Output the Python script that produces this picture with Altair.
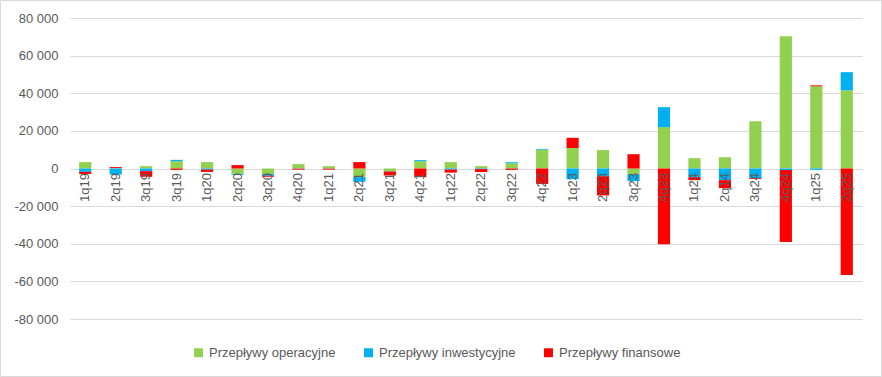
import altair as alt
import pandas as pd

labels = ["1q19","2q19","3q19","3q19","1q20","2q20","3q20","4q20","1q21","2q21","3q21","4q21",
          "1q22","2q22","3q22","4q22","1q23","2q23","3q23","4q23","1q24","2q14","3q24","4q24","1q25","2q25"]

series_names = ["Przepływy operacyjne", "Przepływy inwestycyjne", "Przepływy finansowe"]
series_colors = ["#92D050", "#00B0F0", "#FF0000"]

oper = [3400, 300, 1250, 3900, 3400, -2800, -3000, 2300, 1250, -4600, -1400, 3900,
        3400, 1250, 2800, 10000, 10900, 9800, -3000, 22000, 5500, 6000, 25100, 70300, 43700, 41600]
inw = [-1800, -3200, -1400, 700, -600, -500, -900, -100, -100, -2500, -200, 550,
       -600, -300, 550, 400, -5700, -4100, -3700, 10600, -4600, -6200, -5100, -800, -700, 9600]
fin = [-1100, 500, -3000, -700, -1200, 1800, -500, -500, -500, 3400, -2100, -4600,
       -1600, -1600, -700, -8200, 5400, -10200, 7600, -40200, -1600, -4200, -500, -38300, 500, -56600]

rows = []
for i, lab in enumerate(labels):
    key = f"{i:02d}_{lab}"
    for s, (name, vals) in enumerate(zip(series_names, [oper, inw, fin])):
        rows.append({"key": key, "series": name, "ord": s, "value": vals[i]})
df = pd.DataFrame(rows)

FONT = "Liberation Sans"
GRAY = "#595959"

bars = alt.Chart(df).mark_bar().encode(
    x=alt.X("key:N", sort=None, title=None,
            scale=alt.Scale(paddingInner=0.6, paddingOuter=0.3),
            axis=alt.Axis(labelExpr="substring(datum.value, 3)", labelAngle=270,
                          labelAlign="right", labelBaseline="middle", labelPadding=4,
                          ticks=False, domain=False, offset=-150.5, zindex=1,
                          labelFontSize=13, labelColor=GRAY, labelFont=FONT, grid=False)),
    y=alt.Y("value:Q", title=None, stack="zero",
            scale=alt.Scale(domain=[-80000, 80000], nice=False, zero=False),
            axis=alt.Axis(values=list(range(-80000, 80001, 20000)),
                          labelExpr="(datum.value < 0 ? '-' : '') + replace(format(abs(datum.value), ',d'), ',', ' ')",
                          ticks=False, domain=False, gridColor="#d9d9d9", labelPadding=12,
                          labelFontSize=13, labelColor=GRAY, labelFont=FONT)),
    color=alt.Color("series:N", sort=series_names,
                    scale=alt.Scale(domain=series_names, range=series_colors),
                    legend=alt.Legend(title=None, orient="none", direction="horizontal",
                                      legendX=122, legendY=328, symbolType="square",
                                      symbolSize=80, symbolStrokeWidth=0,
                                      labelFontSize=13, labelColor=GRAY, labelFont=FONT,
                                      columnPadding=26, labelLimit=300)),
    order=alt.Order("ord:Q", sort="ascending"),
)

border = alt.Chart(alt.Data(values=[{}])).mark_rect(
    filled=False, stroke="#d9d9d9", strokeWidth=1
).encode(x=alt.value(-69.5), x2=alt.value(811.5), y=alt.value(-17.5), y2=alt.value(358.5))

chart = alt.layer(bars, border).properties(
    width=792, height=301,
    autosize=alt.AutoSizeParams(type="none"),
    padding={"left": 70, "top": 18, "right": 20, "bottom": 58},
).configure_view(stroke=None)

chart.save("out.html", embed_options={"renderer": "svg", "actions": False})
